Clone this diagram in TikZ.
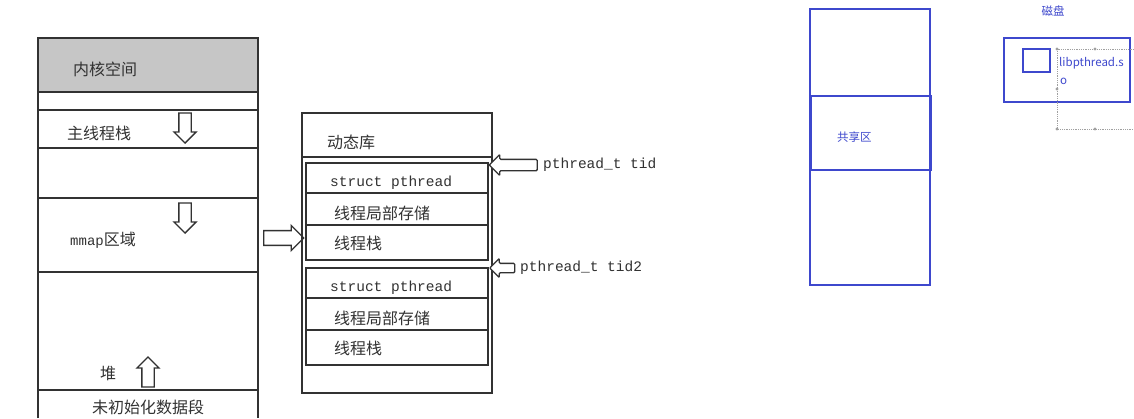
\documentclass[tikz,border=0pt]{standalone}
\usepackage{fontspec}
\newfontfamily\cjk{Noto Sans CJK SC}
\newfontfamily\monoft{Liberation Mono}
\usetikzlibrary{shapes.arrows,positioning}
\definecolor{inkgray}{RGB}{50,50,50}
\definecolor{kernelgray}{RGB}{198,198,198}
\definecolor{slideblue}{RGB}{62,72,205}
\definecolor{dotgray}{RGB}{160,160,160}

\begin{document}
\begin{tikzpicture}[x=1pt,y=-1pt,
  sketch/.style={draw=inkgray,line width=1.5pt},
  lbl/.style={anchor=west,inner sep=0pt,font=\fontsize{16}{16}\cjk,text=inkgray},
  code/.style={anchor=west,inner sep=0pt,font=\fontsize{14.5}{14.5}\monoft,text=inkgray},
  hollow/.style={single arrow,draw=inkgray,fill=white,line width=1.3pt,
                 inner sep=0pt,single arrow head extend=5pt},
  bluebox/.style={draw=slideblue,line width=2.2pt},
  bluetext/.style={inner sep=0pt,font=\fontsize{11.5}{11.5}\cjk,text=slideblue}]
  \useasboundingbox (0,0) rectangle (1134,418);
  \fill[white] (0,0) rectangle (1134,418);

  % process address space
  \fill[kernelgray] (38,38) rectangle (258,92);
  \draw[sketch] (38,418) -- (38,38) -- (258,38) -- (258,418);
  \foreach \y in {92,110,148,198,272,390}
    \draw[sketch] (38,\y) -- (258,\y);
  \node[lbl] (kernel) at (73,69) {内核空间};
  \node[lbl] (mainstack) at (67,133) {主线程栈};
  \node[lbl] (mmap) at (70,240) {{\fontsize{14}{14}\monoft mmap}区域};
  \node[lbl] (heap) at (100,373) {堆};
  \node[lbl] (bss) at (92,407) {未初始化数据段};
  \node[hollow,minimum height=30pt,minimum width=22pt,shape border rotate=270,
        text width=11pt] (stackgrow) at (185,125) {};
  \node[hollow,minimum height=30pt,minimum width=22pt,shape border rotate=270,
        text width=11pt] (mmapgrow) at (185,215) {};
  \node[hollow,minimum height=30pt,minimum width=22pt,shape border rotate=90,
        text width=11pt] (heapgrow) at (148,375) {};

  % expand mmap region
  \node[hollow,minimum height=40pt,minimum width=25pt,text height=13pt,text depth=0pt] (expand) at (280,238) {};

  % dynamic library region
  \draw[sketch] (302,113) rectangle (492,393);
  \draw[sketch] (302,157) -- (492,157);
  \node[lbl] (dynlib) at (327,142) {动态库};
  \foreach \t/\top in {1/163,2/268}{
    \draw[sketch] (306,\top) rectangle (488,\top+97);
    \draw[sketch] (306,\top+30) -- (488,\top+30);
    \draw[sketch] (306,\top+62) -- (488,\top+62);
    \node[code] (pt\t) at (330,\top+20) {struct pthread};
    \node[lbl] (tls\t) at (334,\top+50) {线程局部存储};
    \node[lbl] (tstack\t) at (334,\top+80) {线程栈};
  }

  % thread ids
  \node[hollow,minimum height=48pt,minimum width=19pt,text height=10pt,text depth=0pt,
        shape border rotate=180,rounded corners=1pt] (tidptr) at (516,165) {};
  \node[code] (tid) at (543,165) {pthread\_t tid};
  \node[hollow,minimum height=25pt,minimum width=16pt,text height=8pt,text depth=0pt,
        shape border rotate=180,rounded corners=1pt] (tidptrb) at (504.5,268) {};
  \node[code] (tidb) at (520,268) {pthread\_t tid2};

  % physical memory
  \draw[bluebox] (810,9) rectangle (930,285);
  \draw[bluebox] (811,96) rectangle (931,170);
  \node[bluetext,anchor=west] (shared) at (837,137) {共享区};

  % disk
  \node[bluetext] (disk) at (1053,11) {磁盘};
  \draw[bluebox] (1004,38) rectangle (1130,102);
  \draw[bluebox] (1023,49) rectangle (1050,72);
  \draw[dotgray,densely dotted,line width=0.8pt] (1134,49) -- (1057,49) -- (1057,129) -- (1134,129);
  \foreach \p in {(1057,49),(1095,49),(1057,89),(1057,129),(1095,129)}
    \fill[dotgray] \p circle (1.6pt);
  \node[bluetext,anchor=west] (libname) at (1059,63) {libpthread.s};
  \node[bluetext,anchor=west] (libtail) at (1060,81) {o};
\end{tikzpicture}
\end{document}
